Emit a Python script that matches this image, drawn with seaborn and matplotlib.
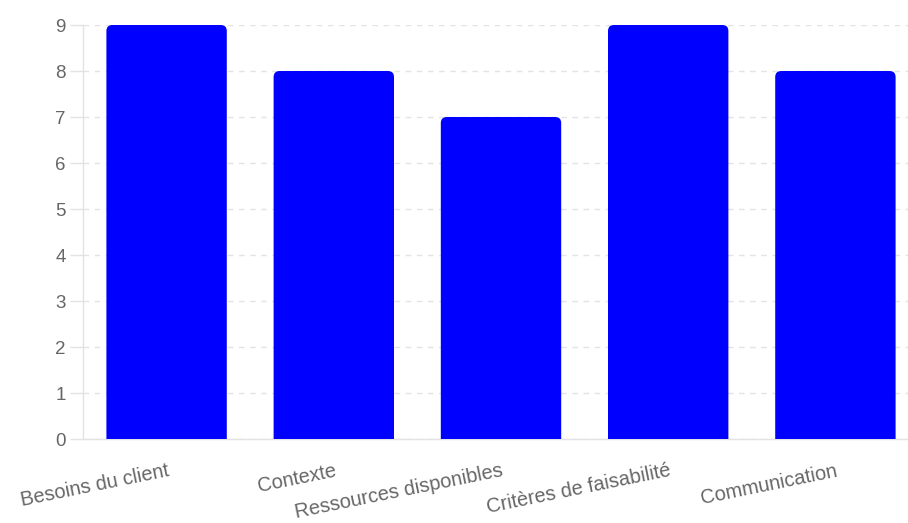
import matplotlib
matplotlib.use("Agg")
import matplotlib.pyplot as plt
import seaborn as sns
import pandas as pd
from matplotlib.patches import FancyBboxPatch

categories = ["Besoins du client", "Contexte", "Ressources disponibles",
              "Critères de faisabilité", "Communication"]
values = [9, 8, 7, 9, 8]
y_ticks = [0, 1, 2, 3, 4, 5, 6, 7, 8, 9]

df = pd.DataFrame({"categorie": categories, "valeur": values})

sns.set_theme(style="white")
plt.rcParams["font.family"] = ["Liberation Sans", "DejaVu Sans"]

W, H = 908, 523
fig = plt.figure(figsize=(W / 100, H / 100), dpi=100)
left, right, top, bottom = 83, 919, 25, 439
ax = fig.add_axes([left / W, (H - bottom) / H, (right - left) / W, (bottom - top) / H])

sns.barplot(data=df, x="categorie", y="valeur", color="#0000FF", width=0.72,
            saturation=1, ax=ax)

ax.set_ylim(0, 9)
ax.set_xlim(-0.5, len(categories) - 0.5)

# rounded top corners
px_per_x = (right - left) / len(categories)
px_per_y = (bottom - top) / 9
aspect = px_per_x / px_per_y
rad = 6 / px_per_x
for p in list(ax.patches):
    x0, y0 = p.get_x(), p.get_y()
    w, h = p.get_width(), p.get_height()
    fb = FancyBboxPatch((x0, y0 - 0.5), w, h + 0.5,
                        boxstyle=f"round,pad=0,rounding_size={rad}",
                        mutation_aspect=aspect, facecolor="#0000FF",
                        edgecolor="none", zorder=3, clip_on=True)
    ax.add_patch(fb)
    p.set_visible(False)

ax.set_yticks(y_ticks)
ax.set_yticklabels([str(v) for v in y_ticks])
ax.yaxis.grid(True, color="#e3e3e3", linestyle=(0, (4, 4)), linewidth=1)
ax.xaxis.grid(False)
ax.set_axisbelow(True)

for s in ["top", "right"]:
    ax.spines[s].set_visible(False)
for s in ["left", "bottom"]:
    ax.spines[s].set_color("#e3e3e3")
    ax.spines[s].set_linewidth(1)
    ax.spines[s].set_zorder(1)

ax.tick_params(axis="y", length=9.5, width=1, color="#e3e3e3", pad=3,
               labelsize=13.5, labelcolor="#666666", left=True)
ax.tick_params(axis="x", length=0, pad=16, labelsize=14.4, labelcolor="#666666")
for lbl in ax.get_xticklabels():
    lbl.set_rotation(11.5)
    lbl.set_rotation_mode("anchor")
    lbl.set_ha("right")
    lbl.set_va("top")

ax.set_xlabel("")
ax.set_ylabel("")

fig.savefig("out.png", dpi=100)
